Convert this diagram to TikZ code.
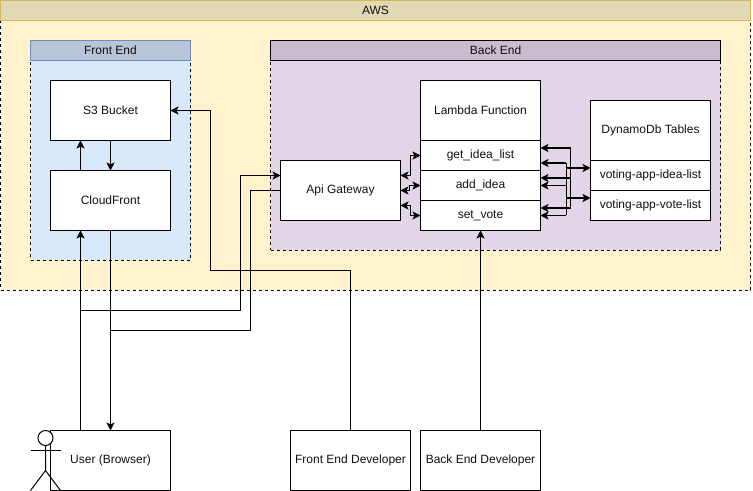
\documentclass[tikz,border=0pt]{standalone}
\usepackage{fontspec}
\setmainfont{Liberation Sans}
\usetikzlibrary{arrows.meta,calc}
\definecolor{awsfill}{HTML}{FFF2CC}
\definecolor{awshead}{HTML}{E2D8B6}
\definecolor{awsline}{HTML}{D6B656}
\definecolor{fefill}{HTML}{DAE8FC}
\definecolor{fehead}{HTML}{B8C4D8}
\definecolor{feline}{HTML}{6C8EBF}
\definecolor{befill}{HTML}{E1D5E7}
\definecolor{behead}{HTML}{C9BCCC}
\definecolor{txt}{HTML}{111111}
\tikzset{
  wh/.style 2 args={minimum width=#1*0.75pt,minimum height=#2*0.75pt},
  panel/.style={inner sep=0pt,outer sep=0pt,line width=0.75pt,font=\fontsize{9}{11}\selectfont,text=txt},
  bodyp/.style={panel,draw=black,dash pattern=on 2.25pt off 2.25pt},
  box/.style={panel,draw=black,fill=white},
  tip/.tip={Stealth[length=6pt,width=6pt,inset=1.4pt]},
  conn/.style={line width=0.75pt,draw=black,-tip},
  both/.style={line width=0.75pt,draw=black,tip-tip},
  heavy/.style={line width=1.15pt,draw=black,-tip},
  plain/.style={line width=0.75pt,draw=black},
}
\begin{document}
\begin{tikzpicture}[x=0.75pt,y=-0.75pt]
\useasboundingbox (0,0) rectangle (753,491);
\begin{scope}[shift={(0.5,0.5)}]
% panels
\node[bodyp,fill=awsfill,wh={750}{270}] (awsbody) at (375,155) {};
\node[panel,draw=awsline,fill=awshead,wh={750}{20}] (aws) at (375,10) {AWS};
\node[bodyp,fill=fefill,wh={160}{200}] (febody) at (110,160) {};
\node[panel,draw=feline,fill=fehead,wh={160}{20}] (fe) at (110,50) {Front End};
\node[bodyp,fill=befill,wh={450}{190}] (bebody) at (495,155) {};
\node[panel,draw=black,fill=behead,wh={450}{20}] (be) at (495,50) {Back End};
% boxes
\node[box,wh={120}{60}] (s3) at (110,110) {S3 Bucket};
\node[box,wh={120}{60}] (cf) at (110,200) {CloudFront};
\node[box,wh={120}{60}] (api) at (340,190) {Api Gateway};
\node[box,wh={120}{60}] (lambda) at (480,110) {Lambda Function};
\node[box,wh={120}{30}] (getidea) at (480,155) {get\_idea\_list};
\node[box,wh={120}{30}] (addidea) at (480,185) {add\_idea};
\node[box,wh={120}{30}] (setvote) at (480,215) {set\_vote};
\node[box,wh={120}{60}] (ddb) at (650,130) {DynamoDb Tables};
\node[box,wh={120}{30}] (ideatbl) at (650,175) {voting-app-idea-list};
\node[box,wh={120}{30}] (votetbl) at (650,205) {voting-app-vote-list};
\node[box,wh={120}{60}] (user) at (110,460) {User (Browser)};
\node[box,wh={120}{60}] (fedev) at (350,460) {Front End Developer};
\node[box,wh={120}{60}] (bedev) at (480,460) {Back End Developer};
% actor
\node[panel,draw=black,fill=white,circle,minimum size=15*0.75pt] (head) at (45,437.5) {};
\draw[plain] (head.south) -- (45,470) coordinate (hip) -- (30,490);
\draw[plain] (hip) -- (60,490);
\draw[plain] (30,450) -- (60,450);
% connectors front end
\draw[conn] ($(s3.south west)+(60,0)$) -- ($(cf.north west)+(60,0)$);
\draw[conn] ($(cf.north west)+(30,0)$) -- ($(s3.south west)+(30,0)$);
\draw[conn] ($(user.north west)+(30,0)$) -- ($(cf.south west)+(30,0)$);
\draw[conn] ($(cf.south west)+(60,0)$) -- ($(user.north west)+(60,0)$);
\draw[conn] ($(user.north west)+(30,-120)$) -- ++(160,0) -- (240,175) -- ($(api.north west)+(0,15)$);
\draw[plain] (api.west) -- (250,190) -- (250,330) -- ($(user.north west)+(60,-100)$);
\draw[conn] (fedev.north) -- (350,270) -- (210,270) -- (210,110) -- (s3.east);
\draw[conn] (bedev.north) -- (setvote.south);
% api <-> lambda
\draw[both] ($(api.north east)+(0,15)$) -- (410,175) -- (410,155) -- (getidea.west);
\draw[both] (api.east) -- (409,190) -- (409,185) -- (addidea.west);
\draw[both] ($(api.north east)+(0,45)$) -- (410,205) -- (410,215) -- (setvote.west);
% lambda <-> tables
\draw[plain] (570,147.5) -- (570,207.5);
\draw[plain] (565.5,162.5) -- (565.5,215);
\draw[heavy] (570,147.5) -- ($(getidea.north east)+(0,7.5)$);
\draw[heavy] (570,177.5) -- ($(addidea.north east)+(0,7.5)$);
\draw[heavy] (570,207.5) -- ($(setvote.north east)+(0,7.5)$);
\draw[heavy] (565.5,162.5) -- ($(getidea.north east)+(0,22.5)$);
\draw[conn] (565.5,185) -- ($(addidea.north east)+(0,15)$);
\draw[conn] (565.5,215) -- ($(setvote.north east)+(0,15)$);
\draw[heavy] (565.5,167.5) -- ($(ideatbl.west)+(0,-7.5)$);
\draw[heavy] (565.5,197.5) -- ($(votetbl.west)+(0,-7.5)$);
\end{scope}
\end{tikzpicture}
\end{document}
